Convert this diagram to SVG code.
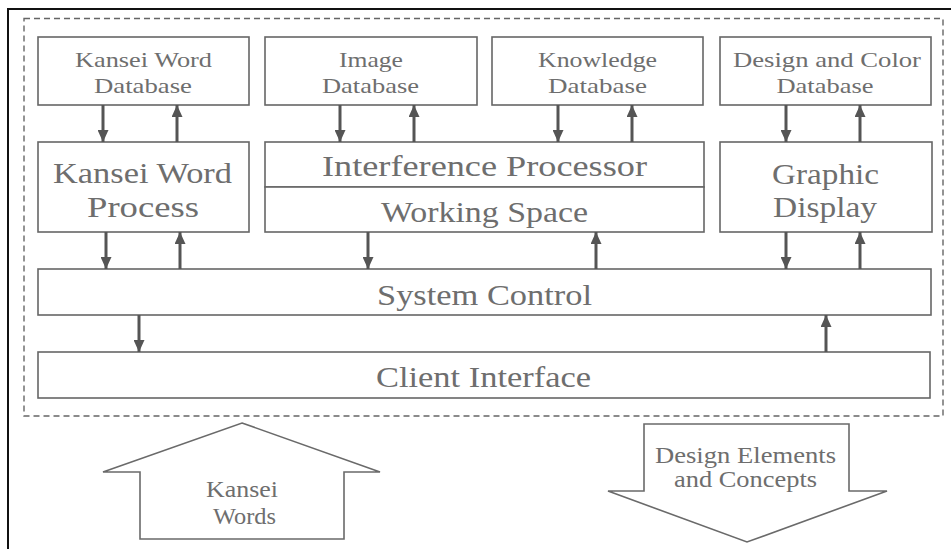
<svg xmlns="http://www.w3.org/2000/svg" width="951" height="549" viewBox="0 0 951 549">
  <style>
    .box { fill: #ffffff; stroke: #666666; stroke-width: 1.6; }
    .lbl { font-family: "Liberation Serif", "DejaVu Serif", serif; fill: #6e6e6e; text-anchor: middle; }
    .sm { font-size: 21px; }
    .lg { font-size: 30px; }
    .md { font-size: 23px; }
    .conn { stroke: #555555; stroke-width: 3; fill: none; marker-end: url(#head); }
    .big { fill: #ffffff; stroke: #6a6a6a; stroke-width: 1.6; }
  </style>
  <defs>
    <marker id="head" markerUnits="userSpaceOnUse" markerWidth="12" markerHeight="11" viewBox="0 0 12 11" refX="12" refY="5.5" orient="auto">
      <path d="M0,0 L12,5.5 L0,11 Z" fill="#555555"/>
    </marker>
  </defs>

  <rect width="951" height="549" fill="#ffffff"/>

  <!-- outer frame -->
  <path d="M8,549 L8,9 L951,9" fill="none" stroke="#111111" stroke-width="2"/>

  <!-- system boundary -->
  <rect x="24" y="18.5" width="919" height="397.5" fill="none" stroke="#666666" stroke-width="1.4" stroke-dasharray="6 4"/>

  <g id="kansei-word-db">
    <rect class="box" x="38" y="37" width="211" height="68"/>
    <text class="lbl sm" x="143.5" y="67" textLength="137" lengthAdjust="spacingAndGlyphs">Kansei Word</text>
    <text class="lbl sm" x="143" y="93" textLength="98" lengthAdjust="spacingAndGlyphs">Database</text>
  </g>
  <g id="image-db">
    <rect class="box" x="265" y="37" width="212" height="68"/>
    <text class="lbl sm" x="371" y="67" textLength="64" lengthAdjust="spacingAndGlyphs">Image</text>
    <text class="lbl sm" x="370.5" y="93" textLength="97" lengthAdjust="spacingAndGlyphs">Database</text>
  </g>
  <g id="knowledge-db">
    <rect class="box" x="492" y="37" width="211" height="68"/>
    <text class="lbl sm" x="597.5" y="67" textLength="119" lengthAdjust="spacingAndGlyphs">Knowledge</text>
    <text class="lbl sm" x="597.5" y="93" textLength="99" lengthAdjust="spacingAndGlyphs">Database</text>
  </g>
  <g id="design-color-db">
    <rect class="box" x="720" y="37" width="211" height="68"/>
    <text class="lbl sm" x="827" y="67" textLength="188" lengthAdjust="spacingAndGlyphs">Design and Color</text>
    <text class="lbl sm" x="825" y="93" textLength="97" lengthAdjust="spacingAndGlyphs">Database</text>
  </g>

  <g id="kansei-word-process">
    <rect class="box" x="38" y="142" width="211" height="90"/>
    <text class="lbl lg" x="142.5" y="183" textLength="179" lengthAdjust="spacingAndGlyphs">Kansei Word</text>
    <text class="lbl lg" x="143" y="217" textLength="112" lengthAdjust="spacingAndGlyphs">Process</text>
  </g>
  <g id="interference-processor">
    <rect class="box" x="265" y="142" width="439" height="45"/>
    <text class="lbl lg" x="484.5" y="176" textLength="325" lengthAdjust="spacingAndGlyphs">Interference Processor</text>
  </g>
  <g id="working-space">
    <rect class="box" x="265" y="187" width="439" height="45"/>
    <text class="lbl lg" x="484.5" y="222" textLength="207" lengthAdjust="spacingAndGlyphs">Working Space</text>
  </g>
  <g id="graphic-display">
    <rect class="box" x="720" y="142" width="212" height="90"/>
    <text class="lbl lg" x="825.5" y="184" textLength="107" lengthAdjust="spacingAndGlyphs">Graphic</text>
    <text class="lbl lg" x="825" y="217" textLength="104" lengthAdjust="spacingAndGlyphs">Display</text>
  </g>
  <g id="system-control">
    <rect class="box" x="38" y="269" width="893" height="46"/>
    <text class="lbl lg" x="484.5" y="305" textLength="215" lengthAdjust="spacingAndGlyphs">System Control</text>
  </g>
  <g id="client-interface">
    <rect class="box" x="38" y="352" width="892" height="46"/>
    <text class="lbl lg" x="483.5" y="387" textLength="215" lengthAdjust="spacingAndGlyphs">Client Interface</text>
  </g>

  <g id="connectors">
    <!-- databases to processors -->
    <line class="conn" x1="103" y1="105" x2="103" y2="142"/>
    <line class="conn" x1="177" y1="142" x2="177" y2="105"/>
    <line class="conn" x1="340" y1="105" x2="340" y2="142"/>
    <line class="conn" x1="414" y1="142" x2="414" y2="105"/>
    <line class="conn" x1="558" y1="105" x2="558" y2="142"/>
    <line class="conn" x1="632" y1="142" x2="632" y2="105"/>
    <line class="conn" x1="786" y1="105" x2="786" y2="142"/>
    <line class="conn" x1="860" y1="142" x2="860" y2="105"/>
    <!-- processors to system control -->
    <line class="conn" x1="106" y1="232" x2="106" y2="269"/>
    <line class="conn" x1="180" y1="269" x2="180" y2="232"/>
    <line class="conn" x1="368" y1="232" x2="368" y2="269"/>
    <line class="conn" x1="596" y1="269" x2="596" y2="232"/>
    <line class="conn" x1="786" y1="232" x2="786" y2="269"/>
    <line class="conn" x1="860" y1="269" x2="860" y2="232"/>
    <!-- system control and client interface -->
    <line class="conn" x1="139" y1="315" x2="139" y2="352"/>
    <line class="conn" x1="826" y1="352" x2="826" y2="315"/>
  </g>

  <g id="kansei-words-input">
    <path class="big" d="M242,423 L380,472 L344,472 L344,539 L140,539 L140,472 L103,472 Z"/>
    <text class="lbl md" x="242" y="497" textLength="72" lengthAdjust="spacingAndGlyphs">Kansei</text>
    <text class="lbl md" x="244.5" y="524" textLength="63" lengthAdjust="spacingAndGlyphs">Words</text>
  </g>
  <g id="design-output">
    <path class="big" d="M644,424 L849,424 L849,491 L887,491 L747,542 L608,491 L644,491 Z"/>
    <text class="lbl md" x="745.5" y="463" textLength="181" lengthAdjust="spacingAndGlyphs">Design Elements</text>
    <text class="lbl md" x="745.5" y="487" textLength="143" lengthAdjust="spacingAndGlyphs">and Concepts</text>
  </g>
</svg>
